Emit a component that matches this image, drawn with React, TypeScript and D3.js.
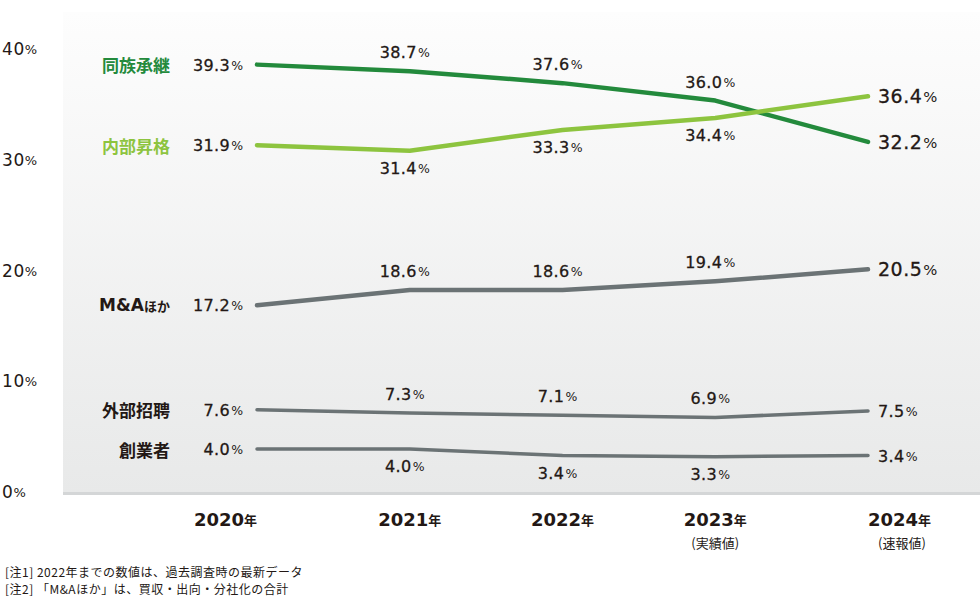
import React from 'react';
import * as d3 from 'd3';

const years = ['2020', '2021', '2022', '2023', '2024'];
const yearNotes = ['', '', '', '(実績値)', '(速報値)'];
const seriesNames = ['同族承継', '内部昇格', 'M&Aほか', '外部招聘', '創業者'];
const dozoku = [39.3, 38.7, 37.6, 36.0, 32.2];
const naibu = [31.9, 31.4, 33.3, 34.4, 36.4];
const maHoka = [17.2, 18.6, 18.6, 19.4, 20.5];
const gaibu = [7.6, 7.3, 7.1, 6.9, 7.5];
const sogyo = [4.0, 4.0, 3.4, 3.3, 3.4];
const yTicks = [0, 10, 20, 30, 40];
const notes = [
  '[注1] 2022年までの数値は、過去調査時の最新データ',
  '[注2] 「M&Aほか」は、買収・出向・分社化の合計',
];

// styling / placement config
const seriesValues = [dozoku, naibu, maHoka, gaibu, sogyo];
const seriesColors = ['#238a3c', '#8dc43f', '#6b7375', '#6b7375', '#6b7375'];
const nameColors = ['#238a3c', '#8dc43f', '#231815', '#231815', '#231815'];
const lineWidths = [4.5, 4.5, 4.5, 3.5, 3.5];
const labelSides = [
  ['left', 'above', 'above', 'above', 'right'],
  ['left', 'below', 'below', 'below', 'right'],
  ['left', 'above', 'above', 'above', 'right'],
  ['left', 'above', 'above', 'above', 'right'],
  ['left', 'below', 'below', 'below', 'right'],
];
const bigLast = [true, true, true, false, false];

const W = 980;
const H = 603;
const NUM_FONT = '"DejaVu Sans", sans-serif';
const JP_FONT = '"Noto Sans CJK JP", "Noto Sans", sans-serif';
const TXT = '#231815';

export default function App() {
  const x = d3.scalePoint<string>().domain(years).range([257, 868]);
  const y = d3.scaleLinear().domain([0, 40]).range([492.6, 57]);
  const tickY = d3.scaleLinear().domain([0, 40]).range([492, 49]);
  const line = d3
    .line<number>()
    .x((_, i) => x(years[i]) as number)
    .y((d) => y(d));

  const plotTop = 12;
  const plotBottom = 493;

  const valueLabel = (v: number, big: boolean) => {
    const fs = big ? 19 : 16;
    return (
      <>
        <tspan fontSize={fs} letterSpacing={big ? 0.5 : 0.4} stroke={TXT} strokeWidth={0.3}>
          {v.toFixed(1)}
        </tspan>
        <tspan fontSize={fs * 0.78} dx={1}>%</tspan>
      </>
    );
  };

  return (
    <svg
      width={W}
      height={H}
      style={{ position: 'absolute', left: 0, top: 0, display: 'block', background: '#fff' }}
    >
      <defs>
        <linearGradient id="bg" x1="0" y1="0" x2="0" y2="1">
          <stop offset="0%" stopColor="#fdfdfd" />
          <stop offset="100%" stopColor="#e8e9e9" />
        </linearGradient>
      </defs>
      <rect x={63} y={plotTop} width={W - 63} height={plotBottom - plotTop} fill="url(#bg)" />
      <rect x={63} y={plotBottom - 1} width={W - 63} height={3} fill="#d4d6d7" />

      {/* y tick labels */}
      {yTicks.map((t) => (
        <text
          key={t}
          x={2}
          y={tickY(t)}
          dominantBaseline="central"
          fontFamily={NUM_FONT}
          fill={TXT}
          fontWeight={400}
        >
          <tspan fontSize={17} letterSpacing={0.6}>{t}</tspan>
          <tspan fontSize={13}>%</tspan>
        </text>
      ))}

      {/* lines */}
      {seriesValues.map((vals, si) => (
        <path
          key={si}
          d={line(vals) as string}
          fill="none"
          stroke={seriesColors[si]}
          strokeWidth={lineWidths[si]}
          strokeLinecap="round"
          strokeLinejoin="round"
        />
      ))}

      {/* series names */}
      {seriesValues.map((vals, si) => {
        const name = seriesNames[si];
        const isMA = name.startsWith('M&A');
        return (
          <text
            key={name}
            x={170}
            y={y(vals[0])}
            textAnchor="end"
            dominantBaseline="central"
            fontFamily={JP_FONT}
            fontWeight={700}
            fontSize={17}
            fill={nameColors[si]}
          >
            {isMA ? (
              <>
                <tspan fontFamily={NUM_FONT} fontSize={17}>M&amp;A</tspan>
                <tspan fontSize={13}>ほか</tspan>
              </>
            ) : (
              name
            )}
          </text>
        );
      })}

      {/* value labels */}
      {seriesValues.map((vals, si) =>
        vals.map((v, i) => {
          const side = labelSides[si][i];
          const px = x(years[i]) as number;
          const py = y(v);
          let lx = px;
          let ly = py;
          let anchor: 'start' | 'middle' | 'end' = 'middle';
          if (side === 'left') {
            lx = 243;
            anchor = 'end';
          } else if (side === 'right') {
            lx = px + 10;
            anchor = 'start';
          } else if (side === 'above') {
            lx = px - 5;
            ly = py - 19;
          } else {
            lx = px - 5;
            ly = py + 17;
          }
          const big = side === 'right' && bigLast[si];
          return (
            <text
              key={`${si}-${i}`}
              x={lx}
              y={ly}
              textAnchor={anchor}
              dominantBaseline="central"
              fontFamily={NUM_FONT}
              fill={TXT}
            >
              {valueLabel(v, big)}
            </text>
          );
        })
      )}

      {/* x labels */}
      {years.map((yr, i) => {
        const px = x(yr) as number;
        const anchor = i === 0 ? 'end' : i === years.length - 1 ? 'start' : 'middle';
        return (
          <g key={yr}>
            <text
              x={px}
              y={519}
              textAnchor={anchor}
              dominantBaseline="central"
              fill={TXT}
              fontWeight={700}
            >
              <tspan fontFamily={NUM_FONT} fontSize={18}>{yr}</tspan>
              <tspan fontFamily={JP_FONT} fontSize={13}>年</tspan>
            </text>
            {yearNotes[i] && (
              <text
                x={i === years.length - 1 ? px + 34 : px}
                y={542}
                textAnchor="middle"
                dominantBaseline="central"
                fontFamily={JP_FONT}
                fontSize={13}
                fill={TXT}
              >
                {yearNotes[i]}
              </text>
            )}
          </g>
        );
      })}

      {/* notes */}
      {notes.map((n, i) => (
        <text
          key={i}
          x={5}
          y={571 + i * 17.5}
          dominantBaseline="central"
          fontFamily={JP_FONT}
          fontSize={12}
          letterSpacing={0.5}
          fill={TXT}
        >
          {n}
        </text>
      ))}
    </svg>
  );
}
